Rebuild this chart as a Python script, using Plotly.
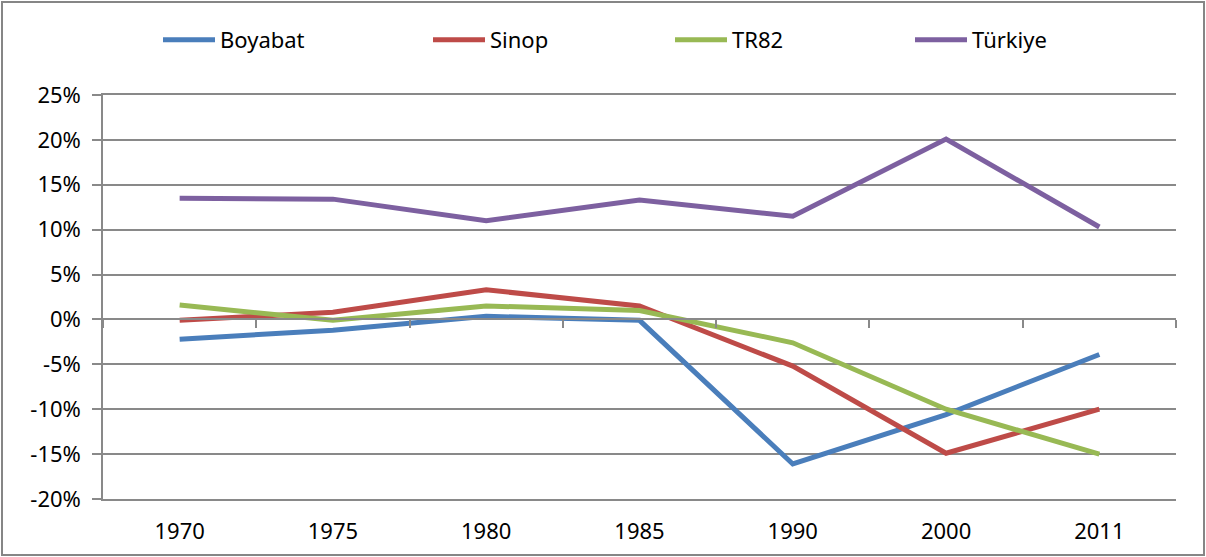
import plotly.graph_objects as go

years = ["1970", "1975", "1980", "1985", "1990", "2000", "2011"]
boyabat = [-2.2, -1.2, 0.35, -0.1, -16.1, -10.6, -3.9]
sinop = [-0.1, 0.8, 3.3, 1.5, -5.2, -14.9, -10.0]
tr82 = [1.6, -0.1, 1.5, 1.0, -2.6, -10.0, -15.0]
turkiye = [13.5, 13.4, 11.0, 13.3, 11.5, 20.1, 10.3]

y_tick_vals = [-20, -15, -10, -5, 0, 5, 10, 15, 20, 25]
y_tick_text = ["-20%", "-15%", "-10%", "-5%", "0%", "5%", "10%", "15%", "20%", "25%"]

names = ["Boyabat", "Sinop", "TR82", "Türkiye"]
series = [boyabat, sinop, tr82, turkiye]
colors = ["#4A7EBB", "#BE4B48", "#98B954", "#7D60A0"]
legend_ids = ["legend", "legend2", "legend3", "legend4"]
legend_x_px = [163, 433, 675, 915]

W, H = 1206, 557
L, R, T, B = 103, 30, 95, 58
pw = W - L - R
ph = H - T - B

FONT = "Noto Sans"
GRID = "#898989"

fig = go.Figure()
for name, vals, col, lid in zip(names, series, colors, legend_ids):
    fig.add_trace(go.Scatter(
        x=years, y=vals, name=name, mode="lines",
        line=dict(color=col, width=5),
        legend=lid,
    ))

# helper trace to draw the category axis crossing at 0%
fig.add_trace(go.Scatter(x=years, y=[None] * len(years), xaxis="x2",
                         mode="lines", showlegend=False, hoverinfo="skip"))

layout_legends = {}
for lid, px in zip(legend_ids, legend_x_px):
    layout_legends[lid] = dict(
        x=(px - L - 5) / pw, xanchor="left",
        y=(H - B - 40) / ph, yanchor="middle",
        orientation="h", bgcolor="rgba(0,0,0,0)",
        font=dict(family=FONT, size=22, color="black"),
        itemwidth=52, tracegroupgap=0,
    )

fig.update_layout(
    width=W, height=H, autosize=False,
    margin=dict(l=L, r=R, t=T, b=B, pad=0, autoexpand=False),
    paper_bgcolor="white", plot_bgcolor="white",
    font=dict(family=FONT, size=22, color="black"),
    showlegend=True,
    xaxis=dict(
        type="category", range=[-0.5, 6.5], automargin=False,
        showgrid=False, showline=True, mirror=True,
        linecolor=GRID, linewidth=1.5, ticks="",
        ticklabelstandoff=12,
        tickfont=dict(family=FONT, size=22, color="black"),
        zeroline=False, fixedrange=True,
    ),
    xaxis2=dict(
        type="category", range=[-0.5, 6.5], overlaying="x", automargin=False,
        anchor="free", position=20 / 45, side="bottom",
        showline=True, linecolor=GRID, linewidth=1.5,
        ticks="outside", tickson="boundaries", ticklen=8,
        tickcolor=GRID, tickwidth=1.5,
        showticklabels=False, showgrid=False, zeroline=False,
    ),
    yaxis=dict(
        range=[-20, 25], tickmode="array", automargin=False,
        tickvals=y_tick_vals, ticktext=y_tick_text,
        showgrid=True, gridcolor=GRID, gridwidth=1.5,
        showline=True, linecolor=GRID, linewidth=1.5,
        ticks="outside", ticklen=9, tickcolor=GRID, tickwidth=1.5,
        zeroline=False,
        ticklabelstandoff=7,
        tickfont=dict(family=FONT, size=22, color="black"),
        fixedrange=True,
    ),
    shapes=[dict(
        type="rect", xref="paper", yref="paper",
        x0=(2 - L) / pw, x1=(W - 2 - L) / pw,
        y0=(H - B - (H - 2)) / ph, y1=(H - B - 2) / ph,
        line=dict(color="#868686", width=2), fillcolor="rgba(0,0,0,0)",
        layer="below",
    )],
    **layout_legends,
)

fig.write_html(
    "out.html",
    config={"displayModeBar": False},
    post_script="document.body.style.margin='0';document.body.style.overflow='hidden';",
)
